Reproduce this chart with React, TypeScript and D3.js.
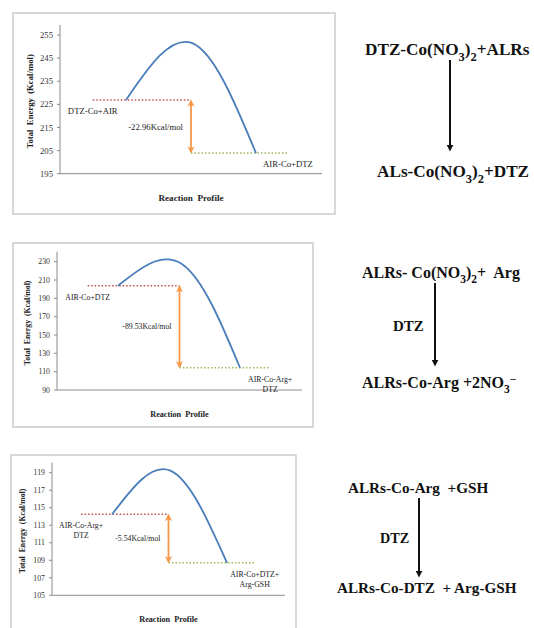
import React from 'react';
import * as d3 from 'd3';

// level positions on the reaction coordinate (0..1 along the x axis)
const levelX = [0.125, 0.5, 0.87]; // level start, arrow, level end

// smoothed profile points: reactant, middle, product (Kcal/mol)
const profileX1 = [0.252, 0.505, 0.748];
const profileE1 = [226.9, 251.45, 203.94];
const profileX2 = [0.249, 0.511, 0.747];
const profileE2 = [203.8, 227.3, 114.27];
const profileX3 = [0.258, 0.508, 0.751];
const profileE3 = [114.25, 119.24, 108.71];

const ticks1 = [195, 205, 215, 225, 235, 245, 255];
const ticks2 = [90, 110, 130, 150, 170, 190, 210, 230];
const ticks3 = [105, 107, 109, 111, 113, 115, 117, 119];

const deltaLabels = ['-22.96Kcal/mol', '-89.53Kcal/mol', '-5.54Kcal/mol'];
const reactantLabels = [['DTZ-Co+AIR'], ['AIR-Co+DTZ'], ['AIR-Co-Arg+', 'DTZ']];
const productLabels = [['AIR-Co+DTZ'], ['AIR-Co-Arg+', 'DTZ'], ['AIR-Co+DTZ+', 'Arg-GSH']];

const nb = '\u00a0';
// equation text: [text, kind] where kind is '', 'sub' or 'sup'
const eqTop = [
  [['DTZ-Co(NO', ''], ['3', 'sub'], [')', ''], ['2', 'sub'], ['+ALRs', '']],
  [['ALRs- Co(NO', ''], ['3', 'sub'], [')', ''], ['2', 'sub'], [`+${nb} Arg`, '']],
  [[`ALRs-Co-Arg${nb} +GSH`, '']],
];
const eqBottom = [
  [['ALs-Co(NO', ''], ['3', 'sub'], [')', ''], ['2', 'sub'], ['+DTZ', '']],
  [['ALRs-Co-Arg +2NO', ''], ['3', 'sub'], ['\u2212', 'sup']],
  [[`ALRs-Co-DTZ${nb} + Arg-GSH`, '']],
];
const eqCatalyst = ['', 'DTZ', 'DTZ'];

const layouts = [
  { frame: [13, 13, 335, 214], left: 60, right: 322, top: 35, bottom: 173.7, font: 8.7, ticks: ticks1, px: profileX1, pe: profileE1 },
  { frame: [13, 243, 313, 427], left: 57, right: 302, top: 261.7, bottom: 390, font: 7.8, ticks: ticks2, px: profileX2, pe: profileE2 },
  { frame: [11, 455, 296, 660], left: 52, right: 285, top: 472.7, bottom: 595.3, font: 7.8, ticks: ticks3, px: profileX3, pe: profileE3 },
];

const eqLayouts = [
  { x: 365, topY: 55, arrowX: 450, arrowTop: 60, arrowBottom: 152, botX: 377, botY: 177, catX: 0, catY: 0, size: 17.2 },
  { x: 362, topY: 278, arrowX: 435, arrowTop: 283, arrowBottom: 367, botX: 362, botY: 388, catX: 393, catY: 331, size: 16 },
  { x: 348, topY: 493, arrowX: 419, arrowTop: 498, arrowBottom: 578, botX: 337, botY: 593, catX: 380, catY: 543, size: 15.2 },
];

const serif = "'Liberation Serif', 'Times New Roman', 'DejaVu Serif', serif";

function Segments({ segs, size }: { segs: string[][]; size: number }) {
  let offset = 0;
  return (
    <>
      {segs.map(([t, kind], i) => {
        const target = kind === 'sub' ? size * 0.33 : kind === 'sup' ? -size * 0.3 : 0;
        const dy = target - offset;
        offset = target;
        return (
          <tspan key={i} dy={dy} fontSize={kind ? size * 0.72 : size}>
            {t}
          </tspan>
        );
      })}
    </>
  );
}

function Panel({ idx }: { idx: number }) {
  const L = layouts[idx];
  const e0 = L.pe[0];
  const e2 = L.pe[L.pe.length - 1];
  const x = d3.scaleLinear().domain([0, 1]).range([L.left, L.right]);
  const y = d3
    .scaleLinear()
    .domain([L.ticks[0], L.ticks[L.ticks.length - 1]])
    .range([L.bottom, L.top]);

  const curve = d3
    .line<number>()
    .x((_, i) => x(L.px[i]))
    .y((d) => y(d))
    .curve(d3.curveNatural);

  const fs = L.font;
  const [fx0, fy0, fx1, fy1] = L.frame;
  const midY = (y(e0) + y(e2)) / 2;

  return (
    <g style={{ fontFamily: serif }}>
      <rect x={fx0} y={fy0} width={fx1 - fx0} height={fy1 - fy0} fill="#fff" stroke="#c4c4c4" strokeWidth={1.3} />

      {/* y axis */}
      <line x1={L.left} x2={L.left} y1={L.top - 10} y2={L.bottom} stroke="#8c8c8c" />
      {L.ticks.map((t) => (
        <g key={t}>
          <line x1={L.left - 3} x2={L.left} y1={y(t)} y2={y(t)} stroke="#8c8c8c" />
          <text x={L.left - 7} y={y(t)} dy="0.35em" textAnchor="end" fontSize={fs} fill="#333">
            {t}
          </text>
        </g>
      ))}
      {/* x axis */}
      <line x1={L.left} x2={L.right} y1={L.bottom} y2={L.bottom} stroke="#8c8c8c" />

      <text
        transform={`translate(${L.left - 27},${(L.top + L.bottom) / 2 - 3}) rotate(-90)`}
        textAnchor="middle"
        fontSize={fs}
        fontWeight="bold"
        fill="#222"
      >
        {`Total${nb} Energy${nb} (Kcal/mol)`}
      </text>
      <text x={x(0.5)} y={L.bottom + 27} textAnchor="middle" fontSize={fs + 0.4} fontWeight="bold" fill="#222">
        {`Reaction${nb} Profile`}
      </text>

      {/* energy levels */}
      <line x1={x(levelX[0])} x2={x(levelX[1])} y1={y(e0)} y2={y(e0)} stroke="#c0504d" strokeWidth={1.5} strokeDasharray="1.5 2" />
      <line x1={x(levelX[1])} x2={x(levelX[2])} y1={y(e2)} y2={y(e2)} stroke="#9bbb59" strokeWidth={1.5} strokeDasharray="1.5 2" />

      <path d={curve(L.pe) || ''} fill="none" stroke="#4a7ebb" strokeWidth={1.8} strokeLinejoin="round" />

      <line
        x1={x(levelX[1])}
        x2={x(levelX[1])}
        y1={y(e0) + 1}
        y2={y(e2) - 1}
        stroke="#f79646"
        strokeWidth={1.8}
        markerStart="url(#orangeHead)"
        markerEnd="url(#orangeHead)"
      />

      <text x={x(levelX[1]) - 8} y={midY} dy="0.35em" textAnchor="end" fontSize={fs} fill="#222">
        {deltaLabels[idx]}
      </text>

      {reactantLabels[idx].map((s, i) => (
        <text key={s} x={x(levelX[0])} y={y(e0) + 14 + i * fs * 1.3} textAnchor="middle" fontSize={fs} fill="#222">
          {s}
        </text>
      ))}
      {productLabels[idx].map((s, i) => (
        <text key={s} x={x(levelX[2])} y={y(e2) + 14 + i * fs * 1.3} textAnchor="middle" fontSize={fs} fill="#222">
          {s}
        </text>
      ))}
    </g>
  );
}

function Equation({ idx }: { idx: number }) {
  const E = eqLayouts[idx];
  return (
    <g fill="#111" style={{ fontFamily: serif, fontWeight: 'bold' }}>
      <text x={E.x} y={E.topY} fontSize={E.size}>
        <Segments segs={eqTop[idx]} size={E.size} />
      </text>
      <line
        x1={E.arrowX}
        x2={E.arrowX}
        y1={E.arrowTop}
        y2={E.arrowBottom - 6}
        stroke="#111"
        strokeWidth={2}
        markerEnd="url(#blackHead)"
      />
      {eqCatalyst[idx] && (
        <text x={E.catX} y={E.catY} fontSize={E.size - 1}>
          {eqCatalyst[idx]}
        </text>
      )}
      <text x={E.botX} y={E.botY} fontSize={E.size}>
        <Segments segs={eqBottom[idx]} size={E.size} />
      </text>
    </g>
  );
}

export default function App() {
  return (
    <svg width={534} height={628} style={{ position: 'absolute', left: 0, top: 0, background: '#fff' }}>
      <defs>
        <marker id="orangeHead" viewBox="0 0 10 10" refX={8} refY={5} markerWidth={4} markerHeight={4} orient="auto-start-reverse">
          <path d="M0,0 L10,5 L0,10 L3,5 Z" fill="#f79646" />
        </marker>
        <marker id="blackHead" viewBox="0 0 10 10" refX={2} refY={5} markerWidth={3.5} markerHeight={3.5} orient="auto">
          <path d="M0,0 L10,5 L0,10 Z" fill="#111" />
        </marker>
      </defs>
      {layouts.map((_, i) => (
        <Panel key={i} idx={i} />
      ))}
      {eqLayouts.map((_, i) => (
        <Equation key={i} idx={i} />
      ))}
    </svg>
  );
}
